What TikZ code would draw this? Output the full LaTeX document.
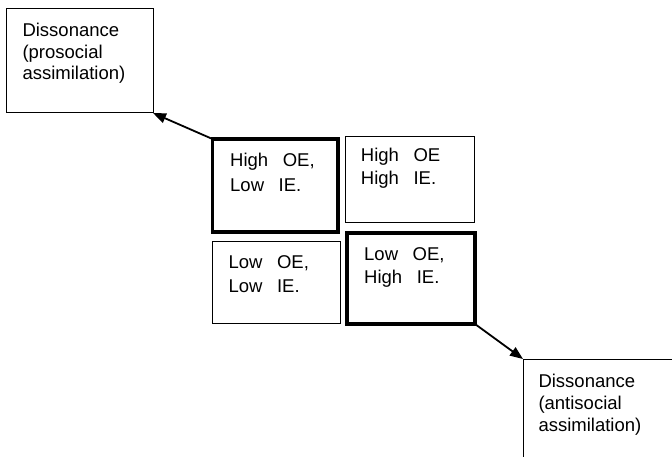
\documentclass[tikz,border=0pt]{standalone}
\usepackage{fontspec}
\setmainfont{Liberation Sans}
\usetikzlibrary{arrows.meta,positioning}
\newcommand\wgap{\hskip 14.6pt\relax}

\begin{document}
\begin{tikzpicture}[x=1pt,y=-1pt,
    cell/.style 2 args={draw, line width=1pt, minimum width=#1, minimum height=#2,
                        anchor=north west, inner sep=0pt, outer sep=0pt},
    strong/.style={line width=3.3pt},
    txt/.style={anchor=north west, inner sep=0pt, align=left,
                font=\fontsize{18.5}{23}\selectfont},
    arr/.style={-{Triangle[length=13pt,width=10pt]}, line width=1.8pt}
  ]
  \path[use as bounding box, clip] (0,0) rectangle (672,457);

  % outer boxes
  \node[cell={147}{104}] (prosoc) at (6,9) {};
  \node[cell={170}{120}] (antisoc) at (523,359) {};
  % the four cells
  \node[cell={125.5}{93}, strong] (hilo) at (212.5,139) {};
  \node[cell={129}{86}] (hihi) at (345,137) {};
  \node[cell={128}{81}] (lolo) at (212,242) {};
  \node[cell={128}{91}, strong] (lohi) at (347,233) {};

  % texts
  \node[txt, font=\fontsize{18.5}{21.5}\selectfont] (prosoc-t) at ([shift={(16.3,14.3)}]prosoc.north west)
    {Dissonance\\(prosocial\\assimilation)};
  \node[txt, font=\fontsize{18.5}{21.7}\selectfont] (antisoc-t) at ([shift={(15.3,15)}]antisoc.north west)
    {Dissonance\\(antisocial\\assimilation)};
  \node[txt, font=\fontsize{18.5}{24.4}\selectfont] (hilo-t) at ([shift={(17.5,14.3)}]hilo.north west)
    {High\wgap OE,\\Low\wgap IE.};
  \node[txt, font=\fontsize{18.5}{22.5}\selectfont] (hihi-t) at ([shift={(15.7,11.3)}]hihi.north west)
    {High\wgap OE\\High\wgap IE.};
  \node[txt, font=\fontsize{18.5}{24}\selectfont] (lolo-t) at ([shift={(16.3,13.7)}]lolo.north west)
    {Low\wgap OE,\\Low\wgap IE.};
  \node[txt, font=\fontsize{18.5}{23.3}\selectfont] (lohi-t) at ([shift={(17,14.3)}]lohi.north west)
    {Low\wgap OE,\\High\wgap IE.};

  % arrows
  \draw[arr] (hilo.north west) -- (prosoc.south east);
  \draw[arr] (lohi.south east) -- (antisoc.north west);
\end{tikzpicture}
\end{document}
